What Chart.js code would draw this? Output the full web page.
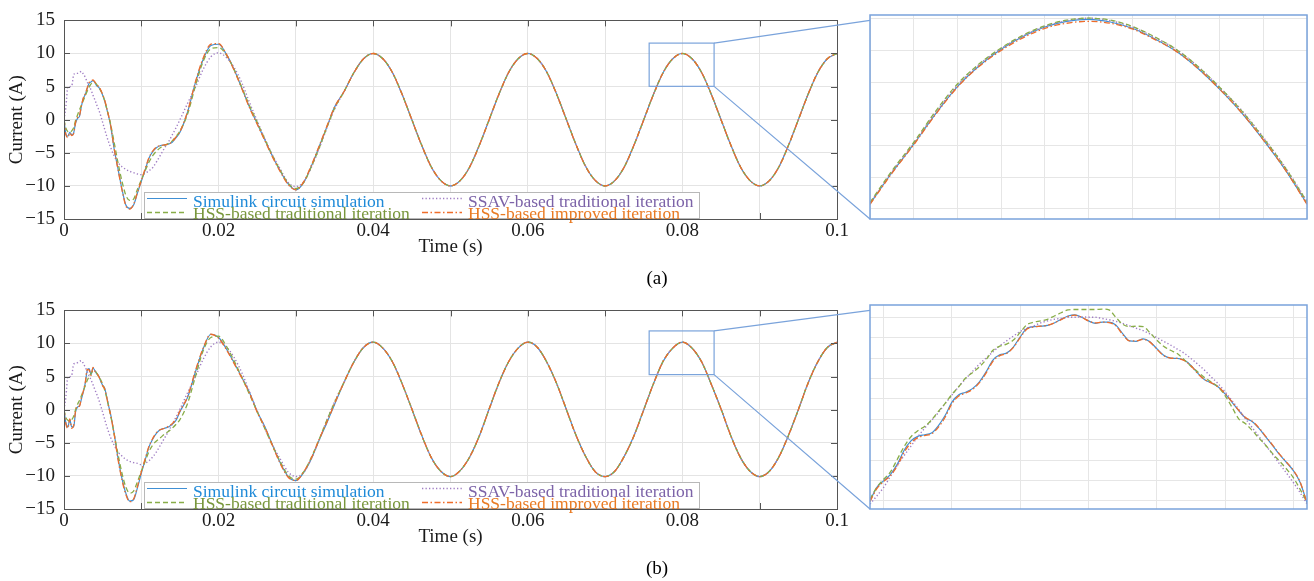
<!DOCTYPE html>
<html>
<head>
<meta charset="utf-8">
<script src="https://cdn.jsdelivr.net/npm/chart.js@4/dist/chart.umd.min.js"></script>
<style>
  body { margin: 0; background: #fff; width: 1314px; height: 581px; overflow: hidden; position: relative; }
  canvas { position: absolute; }
</style>
</head>
<body>
<canvas id="mainA" width="1314" height="290" style="left:0;top:0"></canvas>
<canvas id="mainB" width="1314" height="290" style="left:0;top:290px"></canvas>
<canvas id="zoomA" width="445" height="212" style="left:866px;top:11px"></canvas>
<canvas id="zoomB" width="445" height="212" style="left:866px;top:301px"></canvas>
<script>
// sample instants (ms): fine during start-up, coarser once settled
const transientMs = [
  0, 0.25, 0.5, 0.75, 1, 1.25, 1.5, 1.75, 2, 2.25, 2.5, 2.75, 3, 3.25, 3.5, 3.75, 4, 4.25, 4.5, 4.75, 5, 5.25, 5.5, 5.75, 6,
  6.5, 7, 7.5, 8, 8.5, 9, 9.5, 10, 10.5, 11, 11.5, 12, 12.5, 13, 13.5, 14, 14.5, 15,
  16, 17, 18, 19, 20, 21, 22, 23, 24, 25, 26, 27, 28, 29, 30, 31, 32, 33, 34, 35
];
const steadyMs = [
  36.25, 37.5, 38.75, 40, 41.25, 42.5, 43.75, 45, 46.25, 47.5, 48.75, 50, 51.25, 52.5, 53.75, 55,
  56.25, 57.5, 58.75, 60, 61.25, 62.5, 63.75, 65, 66.25, 67.5, 68.75, 70, 71.25, 72.5, 73.75, 75,
  76.25, 77.5, 78.75, 80, 81.25, 82.5, 83.75, 85, 86.25, 87.5, 88.75, 90, 91.25, 92.5, 93.75, 95,
  96.25, 97.5, 98.75, 100
];

// (a) start-up currents (A)
const simA = [
  0, -2.2, -2.5, -1.9, -2.3, -2.0, -0.5, 0.2, 0.5, 2.0, 3.2, 3.8, 4.7, 5.5, 5.7, 5.9, 5.6, 5.1, 4.9, 4.4, 3.7, 2.9, 1.8, 0.6, -0.7,
  -4.5, -7.5, -10.5, -12.9, -13.4, -12.9, -11.1, -9.3, -7.6, -5.8, -4.8, -4.2, -3.9, -3.8, -3.7, -3.4, -2.7, -1.9,
  1.2, 5.6, 9.1, 11.2, 11.4, 9.9, 7.6, 4.8, 1.9, -0.6, -3.1, -5.6, -7.8, -9.7, -10.6, -9.5, -7.0, -4.1, -1.1, 1.9
];
const ssavA = [
  0, 2.0, 5.0, 5.0, 5.1, 6.8, 7.0, 7.0, 7.1, 7.3, 6.9, 6.4, 5.7, 5.1, 4.5, 3.7, 3.0, 2.2, 1.5, 0.6, -0.4, -1.4, -2.4, -3.3, -4.1,
  -5.5, -6.5, -7.1, -7.5, -7.8, -8.0, -8.2, -8.3, -8.1, -7.7, -7.2, -6.3, -5.3, -4.3, -3.4, -2.3, -1.2, 0.0,
  2.5, 4.9, 7.6, 9.5, 10.1, 9.4, 7.9, 5.6, 2.6, -0.2, -2.9, -5.4, -7.5, -9.5, -10.1, -9.4, -7.2, -4.4, -1.3, 1.6
];
const hssA = [
  0, -1.3, -1.8, -1.9, -1.7, -1.2, -0.1, 0.7, 1.5, 2.2, 2.9, 3.6, 4.3, 4.9, 5.4, 5.6, 5.6, 5.3, 4.9, 4.4, 3.8, 2.9, 1.8, 0.7, -0.5,
  -3.5, -6.6, -9.3, -11.4, -12.2, -12.0, -10.5, -9.1, -7.7, -6.4, -5.4, -4.7, -4.2, -3.9, -3.6, -3.2, -2.5, -1.7,
  0.9, 5.1, 8.8, 10.7, 10.9, 9.8, 7.6, 4.9, 2.1, -0.4, -3.0, -5.5, -7.7, -9.6, -10.4, -9.5, -7.1, -4.3, -1.2, 1.7
];
const hssImpA = [
  0, -2.3, -2.7, -2.0, -2.4, -2.1, -0.4, 0.3, 0.6, 2.1, 3.3, 3.9, 4.8, 5.6, 5.8, 6.0, 5.7, 5.2, 5.0, 4.5, 3.8, 3.0, 1.9, 0.7, -0.6,
  -4.4, -7.6, -10.6, -13.0, -13.5, -12.8, -11.0, -9.2, -7.4, -5.7, -4.7, -4.1, -3.9, -3.8, -3.7, -3.3, -2.6, -1.8,
  1.3, 5.7, 9.3, 11.4, 11.5, 9.9, 7.5, 4.7, 1.8, -0.7, -3.2, -5.7, -7.9, -9.8, -10.6, -9.4, -6.9, -4.0, -1.0, 1.9
];
// (a) settled current, common to all four methods
const steadyA = [
  4.3, 7.1, 9.2,
  10.0, 9.2, 7.1, 3.8, 0.0, -3.8, -7.1, -9.2, -10.0, -9.2, -7.1, -3.8, 0.0, 3.8, 7.1, 9.2,
  10.0, 9.2, 7.1, 3.8, 0.0, -3.8, -7.1, -9.2, -10.0, -9.2, -7.1, -3.8, 0.0, 3.8, 7.1, 9.2,
  10.0, 9.2, 7.1, 3.8, 0.0, -3.8, -7.1, -9.2, -10.0, -9.2, -7.1, -3.8, 0.0, 3.8, 7.1, 9.2,
  10.0
];

// (b) start-up currents (A)
const simB = [
  0, -2.0, -2.6, -1.5, -2.6, -2.6, -0.3, 0.4, 0.6, 1.6, 2.7, 4.0, 5.9, 6.2, 5.3, 6.3, 5.9, 5.4, 5.1, 4.3, 3.7, 3.3, 2.1, 0.7, -0.5,
  -3.7, -7.4, -10.4, -12.6, -13.8, -13.6, -11.8, -9.6, -7.6, -5.6, -4.4, -3.5, -3.0, -2.8, -2.6, -2.2, -1.6, -0.3,
  1.9, 5.7, 9.2, 11.4, 10.9, 9.2, 7.1, 4.9, 2.6, -0.3, -2.6, -5.4, -8.1, -10.1, -10.7, -9.5, -7.4, -4.6, -2.0, 0.8
];
const ssavB = [
  0, 2.0, 5.0, 5.0, 5.2, 6.9, 7.0, 7.1, 7.3, 7.4, 7.0, 6.4, 5.8, 5.1, 4.5, 3.8, 3.0, 2.3, 1.5, 0.6, -0.4, -1.4, -2.4, -3.3, -4.1,
  -5.4, -6.4, -7.0, -7.5, -7.8, -8.0, -8.1, -8.3, -8.1, -7.7, -7.1, -6.3, -5.3, -4.3, -3.3, -2.2, -1.1, 0.1,
  2.6, 5.0, 7.6, 9.5, 10.2, 9.5, 7.9, 5.6, 2.7, -0.2, -2.9, -5.4, -7.5, -9.4, -10.1, -9.5, -7.4, -4.6, -1.6, 1.2
];
const hssB = [
  0, -1.2, -1.6, -1.7, -1.5, -1.0, 0.0, 0.8, 1.4, 2.1, 2.9, 3.6, 4.4, 5.0, 5.5, 5.8, 5.8, 5.5, 5.0, 4.5, 3.9, 3.0, 1.9, 0.6, -0.7,
  -3.7, -6.8, -9.6, -11.7, -12.6, -12.3, -10.9, -9.3, -7.8, -6.3, -5.3, -4.7, -4.2, -3.7, -3.3, -2.8, -2.2, -1.5,
  1.0, 5.0, 8.9, 10.9, 11.1, 9.6, 7.4, 4.9, 2.3, -0.3, -2.9, -5.5, -7.9, -9.9, -10.5, -9.4, -7.2, -4.5, -1.6, 1.1
];
const hssImpB = [
  0, -2.2, -2.8, -1.4, -2.8, -2.4, -0.2, 0.5, 0.5, 1.8, 2.8, 4.1, 6.1, 6.0, 5.2, 6.4, 5.8, 5.5, 5.0, 4.4, 3.6, 3.2, 2.0, 0.6, -0.6,
  -3.8, -7.6, -10.6, -12.8, -13.9, -13.5, -11.6, -9.4, -7.4, -5.5, -4.3, -3.4, -3.0, -2.8, -2.5, -2.1, -1.4, -0.2,
  2.0, 5.9, 9.3, 11.4, 10.8, 9.1, 7.0, 4.8, 2.5, -0.4, -2.7, -5.5, -8.2, -10.2, -10.7, -9.4, -7.3, -4.5, -1.9, 0.9
];
const steadyB = [
  4.2, 7.2, 9.4,
  10.2, 9.3, 7.2, 3.9, 0.1, -3.8, -7.2, -9.3, -10.1, -9.2, -7.1, -3.9, 0.1, 4.0, 7.2, 9.3,
  10.2, 9.4, 7.1, 3.9, 0.0, -3.9, -7.1, -9.4, -10.1, -9.3, -7.0, -3.9, 0.0, 3.9, 7.3, 9.3,
  10.2, 9.3, 7.2, 3.8, 0.1, -3.9, -7.2, -9.3, -10.1, -9.3, -7.1, -3.8, 0.0, 4.0, 7.2, 9.4,
  10.2
];

// close-up of the crest near t = 0.08 s
const zoomMsA = [77.5, 77.75, 78, 78.25, 78.5, 78.75, 79, 79.25, 79.5, 79.75, 80, 80.25, 80.5, 80.75, 81, 81.25, 81.5, 81.75, 82, 82.25, 82.5];
const zoomSimA    = [7.08, 7.57, 8.02, 8.50, 8.93, 9.26, 9.52, 9.72, 9.87, 9.96, 9.99, 9.95, 9.85, 9.69, 9.49, 9.22, 8.89, 8.52, 8.09, 7.62, 7.08];
const zoomSsavA   = [7.09, 7.58, 8.03, 8.52, 8.95, 9.28, 9.53, 9.73, 9.88, 9.97, 10.01, 9.97, 9.87, 9.71, 9.52, 9.25, 8.92, 8.56, 8.13, 7.66, 7.12];
const zoomHssA    = [7.10, 7.60, 8.05, 8.54, 8.97, 9.29, 9.54, 9.74, 9.89, 9.98, 10.01, 9.98, 9.88, 9.72, 9.52, 9.25, 8.92, 8.55, 8.12, 7.65, 7.11];
const zoomHssImpA = [7.07, 7.56, 8.01, 8.49, 8.92, 9.25, 9.50, 9.70, 9.85, 9.93, 9.96, 9.93, 9.84, 9.68, 9.49, 9.22, 8.89, 8.52, 8.09, 7.62, 7.07];

const zoomMsB = [
  76.8, 76.9, 77.0, 77.1, 77.2, 77.3, 77.4, 77.5, 77.6, 77.7, 77.8, 77.9, 78.0, 78.1, 78.2, 78.3, 78.4, 78.5, 78.6, 78.7,
  78.8, 78.9, 79.0, 79.1, 79.2, 79.3, 79.4, 79.5, 79.6, 79.7, 79.8, 79.9, 80.0, 80.1, 80.2, 80.3, 80.4, 80.5, 80.6, 80.7,
  80.8, 80.9, 81.0, 81.1, 81.2, 81.3, 81.4, 81.5, 81.6, 81.7, 81.8, 81.9, 82.0, 82.1, 82.2, 82.3, 82.4, 82.5, 82.6, 82.7,
  82.8, 82.9, 83.0, 83.1, 83.2
];
const zoomSimB = [
  5.50, 5.83, 5.99, 6.15, 6.40, 6.74, 6.97, 7.08, 7.12, 7.16, 7.34, 7.59, 7.92, 8.10, 8.16, 8.25, 8.41, 8.66, 8.95, 9.08,
  9.12, 9.27, 9.52, 9.73, 9.77, 9.78, 9.80, 9.86, 9.95, 10.03, 10.06, 10.00, 9.91, 9.85, 9.88, 9.88, 9.81, 9.60, 9.42, 9.41,
  9.47, 9.40, 9.23, 9.07, 9.00, 8.99, 8.95, 8.82, 8.63, 8.47, 8.39, 8.29, 8.12, 7.92, 7.71, 7.53, 7.44, 7.27, 7.06, 6.85,
  6.63, 6.44, 6.24, 5.95, 5.45
];
const zoomSsavB = [
  5.42, 5.62, 5.83, 6.10, 6.37, 6.61, 6.84, 7.07, 7.28, 7.47, 7.66, 7.88, 8.09, 8.30, 8.49, 8.67, 8.85, 9.00, 9.15, 9.30,
  9.42, 9.54, 9.65, 9.73, 9.79, 9.86, 9.91, 9.95, 9.97, 10.00, 10.00, 10.01, 10.00, 10.00, 9.97, 9.94, 9.90, 9.85, 9.79, 9.73,
  9.67, 9.59, 9.50, 9.41, 9.32, 9.22, 9.12, 8.99, 8.85, 8.70, 8.53, 8.37, 8.17, 7.96, 7.74, 7.51, 7.29, 7.07, 6.85, 6.63,
  6.40, 6.18, 5.95, 5.70, 5.42
];
const zoomHssB = [
  5.54, 5.83, 6.03, 6.21, 6.52, 6.83, 7.07, 7.22, 7.32, 7.48, 7.69, 7.89, 8.11, 8.30, 8.51, 8.64, 8.78, 8.96, 9.19, 9.29,
  9.34, 9.44, 9.63, 9.82, 9.88, 9.91, 9.95, 10.03, 10.11, 10.18, 10.19, 10.19, 10.19, 10.19, 10.20, 10.18, 10.00, 9.83, 9.77, 9.78,
  9.77, 9.62, 9.44, 9.29, 9.19, 9.11, 8.96, 8.80, 8.66, 8.52, 8.41, 8.29, 8.08, 7.80, 7.51, 7.39, 7.22, 7.03, 6.85, 6.65,
  6.47, 6.28, 6.07, 5.78, 5.46
];
const zoomHssImpB = [
  5.48, 5.80, 5.97, 6.12, 6.36, 6.69, 6.92, 7.05, 7.10, 7.14, 7.30, 7.55, 7.88, 8.07, 8.14, 8.23, 8.39, 8.63, 8.92, 9.06,
  9.11, 9.26, 9.50, 9.71, 9.76, 9.78, 9.80, 9.86, 9.94, 10.02, 10.05, 10.00, 9.91, 9.86, 9.88, 9.87, 9.79, 9.58, 9.42, 9.42,
  9.46, 9.39, 9.22, 9.06, 9.00, 8.99, 8.94, 8.81, 8.62, 8.47, 8.39, 8.29, 8.13, 7.93, 7.72, 7.54, 7.45, 7.28, 7.07, 6.86,
  6.64, 6.45, 6.25, 5.96, 5.44
];

var serif = "'Liberation Serif', 'Times New Roman', serif";
var ink = '#1a1a1a';
var zoomInk = '#7aa3db';
var insetLeft = 870;

// legend order is row by row: sim, ssav / hss, hss improved
var looks = [
	{ label: 'Simulink circuit simulation', line: '#3f8fd4', text: '#1f8ad8', dash: [], width: 1.2, order: 4 },
	{ label: 'SSAV-based traditional iteration', line: '#a07ec4', text: '#7c63a8', dash: [1.3, 2.2], width: 1.4, order: 3 },
	{ label: 'HSS-based traditional iteration', line: '#88ad48', text: '#78963c', dash: [5, 3], width: 1.3, order: 2 },
	{ label: 'HSS-based improved iteration', line: '#ef6d2a', text: '#e97a22', dash: [6, 2.5, 1.5, 2.5], width: 1.3, order: 1 }
];

function buildSets(series, times)
{
	return looks.map(function(s, i) {
		return {
			label: s.label,
			data: series[i].map(function(v, j) { return { x: times[j] / 1000, y: v }; }),
			borderColor: s.line,
			borderWidth: s.width,
			borderDash: s.dash,
			pointRadius: 0,
			fill: false,
			cubicInterpolationMode: 'monotone',
			order: s.order
		};
	});
}

function gridEvery(step)
{
	return function(scale) {
		var out = [];
		for (var k = Math.ceil(scale.min / step - 1e-6); k * step <= scale.max + 1e-9; k++)
			out.push({ value: +(k * step).toFixed(6) });
		scale.ticks = out;
	};
}

function line(ctx, x1, y1, x2, y2) { ctx.moveTo(x1, y1); ctx.lineTo(x2, y2); }

var mainDecor = {
	id: 'mainDecor',
	afterDraw: function(chart, args, o)
	{
		var ctx = chart.ctx, a = chart.chartArea;
		var xs = chart.scales.x, ys = chart.scales.y;
		ctx.save();

		// inward tick marks on all four sides
		ctx.strokeStyle = '#555';
		ctx.lineWidth = 1;
		ctx.beginPath();
		xs.ticks.forEach(function(t) {
			var px = Math.round(xs.getPixelForValue(t.value)) + 0.5;
			line(ctx, px, a.bottom, px, a.bottom - 6);
			line(ctx, px, a.top, px, a.top + 6);
		});
		ys.ticks.forEach(function(t) {
			var py = Math.round(ys.getPixelForValue(t.value)) + 0.5;
			line(ctx, a.left, py, a.left + 6, py);
			line(ctx, a.right, py, a.right - 6, py);
		});
		ctx.stroke();

		// legend box sitting on the lower edge, two entries per row
		var lx = a.left + 80, ly = a.bottom - 27, lw = 555, lh = 27;
		ctx.fillStyle = '#fff';
		ctx.fillRect(lx, ly, lw, lh);
		ctx.strokeStyle = '#b8b8b8';
		ctx.strokeRect(lx + 0.5, ly + 0.5, lw, lh - 1);
		ctx.font = '17.5px ' + serif;
		ctx.textAlign = 'left';
		ctx.textBaseline = 'middle';
		looks.forEach(function(s, i) {
			var sx = lx + (i % 2 ? 278 : 3);
			var cy = ly + (i < 2 ? 6.5 : 20.5);
			ctx.strokeStyle = s.line;
			ctx.lineWidth = s.width;
			ctx.setLineDash(s.dash);
			ctx.beginPath(); line(ctx, sx, cy, sx + 40, cy); ctx.stroke();
			ctx.setLineDash([]);
			ctx.fillStyle = s.text;
			ctx.fillText(s.label, sx + 46, cy + (i < 2 ? 3.5 : 1.5));
		});

		// axes box
		ctx.strokeStyle = '#555';
		ctx.lineWidth = 1;
		ctx.strokeRect(Math.round(a.left) + 0.5, Math.round(a.top) + 0.5, Math.round(a.width), Math.round(a.height));

		// zoom window and the two leader lines to the close-up
		var b = o.box;
		var x0 = xs.getPixelForValue(b.x0), x1 = xs.getPixelForValue(b.x1);
		var yTop = ys.getPixelForValue(b.y1), yBot = ys.getPixelForValue(b.y0);
		ctx.strokeStyle = zoomInk;
		ctx.lineWidth = 1.2;
		ctx.strokeRect(x0, yTop, x1 - x0, yBot - yTop);
		ctx.beginPath();
		line(ctx, x1, yTop, insetLeft, a.top);
		line(ctx, x1, yBot, insetLeft, a.bottom);
		ctx.stroke();

		ctx.fillStyle = '#000';
		ctx.font = '19px ' + serif;
		ctx.textAlign = 'center';
		ctx.fillText(o.caption, 657, a.bottom + 60);
		ctx.restore();
	}
};

var insetFrame = {
	id: 'insetFrame',
	afterDraw: function(chart)
	{
		var ctx = chart.ctx, a = chart.chartArea;
		ctx.save();
		ctx.strokeStyle = zoomInk;
		ctx.lineWidth = 1.5;
		ctx.strokeRect(a.left, a.top, a.width, a.height);
		ctx.restore();
	}
};

function drawMain(id, series, box, caption)
{
	var tickFont = { family: serif, size: 19 };
	new Chart(document.getElementById(id), {
		type: 'line',
		data: { datasets: buildSets(series, transientMs.concat(steadyMs)) },
		options: {
			responsive: false,
			animation: false,
			events: [],
			layout: { padding: { left: 0, top: 15, right: 477, bottom: 30 } },
			plugins: { legend: { display: false }, tooltip: { enabled: false }, mainDecor: { box: box, caption: caption } },
			scales: {
				x: {
					type: 'linear', min: 0, max: 0.1,
					ticks: {
						stepSize: 0.01, autoSkip: false, maxRotation: 0, padding: 1, color: ink, font: tickFont,
						callback: function(v) { var k = Math.round(v * 100); return k % 2 === 0 ? String(k / 100) : ''; }
					},
					grid: { color: '#e4e4e4', drawTicks: false },
					border: { display: false },
					title: { display: true, text: 'Time (s)', color: ink, font: tickFont, padding: { top: 0, bottom: 2 } },
					afterFit: function(s) { s.height = 41; }
				},
				y: {
					min: -15, max: 15,
					ticks: {
						stepSize: 5, padding: 9, color: ink, font: tickFont,
						callback: function(v) { return v < 0 ? '\u2212' + Math.abs(v) : String(v); }
					},
					grid: { color: '#e4e4e4', drawTicks: false },
					border: { display: false },
					title: { display: true, text: 'Current (A)', color: ink, font: tickFont, padding: { top: 6, bottom: 0 } },
					afterFit: function(s) { s.width = 64; }
				}
			}
		},
		plugins: [mainDecor]
	});
}

function drawInset(id, series, times, xr, yr)
{
	new Chart(document.getElementById(id), {
		type: 'line',
		data: { datasets: buildSets(series, times) },
		options: {
			responsive: false,
			animation: false,
			events: [],
			layout: { padding: 4 },
			plugins: { legend: { display: false }, tooltip: { enabled: false } },
			scales: {
				x: {
					type: 'linear', min: xr[0], max: xr[1],
					ticks: { display: false },
					grid: { color: '#e6e6e6', drawTicks: false },
					border: { display: false },
					afterBuildTicks: gridEvery(xr[2]),
					afterFit: function(s) { s.height = 0; }
				},
				y: {
					min: yr[0], max: yr[1],
					ticks: { display: false },
					grid: { color: '#e6e6e6', drawTicks: false },
					border: { display: false },
					afterBuildTicks: gridEvery(yr[2]),
					afterFit: function(s) { s.width = 0; }
				}
			}
		},
		plugins: [insetFrame]
	});
}

drawMain('mainA', [simA.concat(steadyA), ssavA.concat(steadyA), hssA.concat(steadyA), hssImpA.concat(steadyA)],
	{ x0: 0.0757, x1: 0.0841, y0: 5.04, y1: 11.57 }, '(a)');
drawMain('mainB', [simB.concat(steadyB), ssavB.concat(steadyB), hssB.concat(steadyB), hssImpB.concat(steadyB)],
	{ x0: 0.0757, x1: 0.0841, y0: 5.3, y1: 11.9 }, '(b)');

drawInset('zoomA', [zoomSimA, zoomSsavA, zoomHssA, zoomHssImpA], zoomMsA, [0.0775, 0.0825, 0.0005], [6.84, 10.06, 0.5]);
drawInset('zoomB', [zoomSimB, zoomSsavB, zoomHssB, zoomHssImpB], zoomMsB, [0.0768, 0.0832, 0.001], [5.3, 10.3, 0.5]);
</script>
</body>
</html>
